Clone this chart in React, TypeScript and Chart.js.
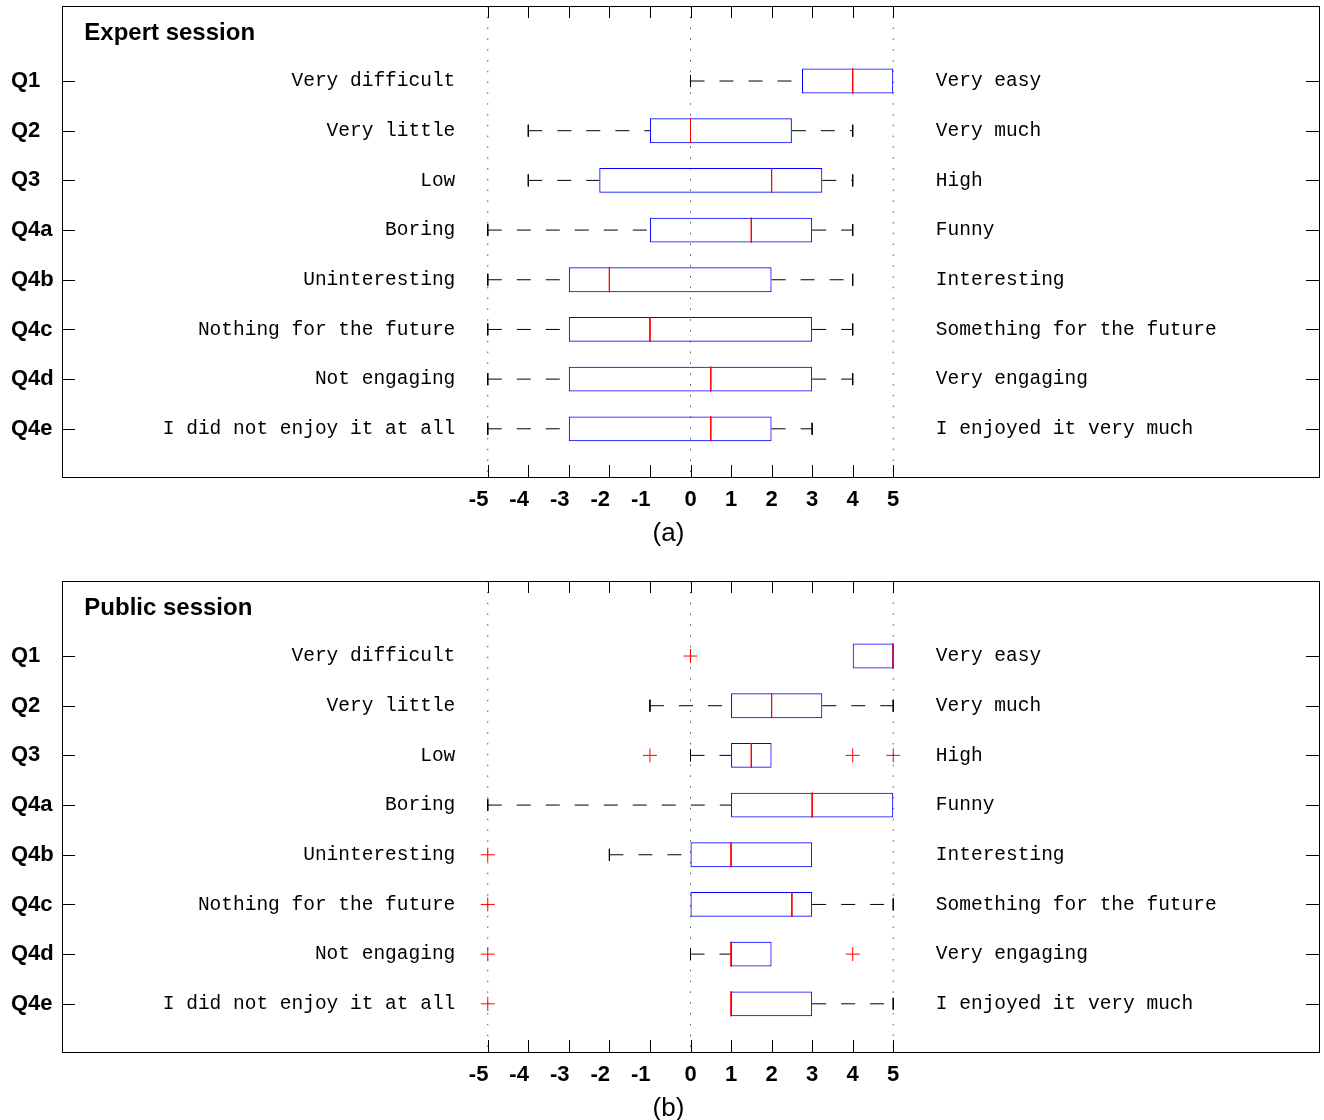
import React, { useEffect, useRef } from 'react';
import { Chart, registerables } from 'chart.js';

Chart.register(...registerables);

// ---------- data ----------
const categories = ['Q1', 'Q2', 'Q3', 'Q4a', 'Q4b', 'Q4c', 'Q4d', 'Q4e'];
const leftAnchors = [
  'Very difficult',
  'Very little',
  'Low',
  'Boring',
  'Uninteresting',
  'Nothing for the future',
  'Not engaging',
  'I did not enjoy it at all',
];
const rightAnchors = [
  'Very easy',
  'Very much',
  'High',
  'Funny',
  'Interesting',
  'Something for the future',
  'Very engaging',
  'I enjoyed it very much',
];
const xTickValues = [-5, -4, -3, -2, -1, 0, 1, 2, 3, 4, 5];
const referenceLines = [-5, 0, 5];

// Expert session (a)
const expertMin = [0, -4, -4, -5, -5, -5, -5, -5];
const expertQ1 = [2.75, -1, -2.25, -1, -3, -3, -3, -3];
const expertMedian = [4, 0, 2, 1.5, -2, -1, 0.5, 0.5];
const expertQ3 = [5, 2.5, 3.25, 3, 2, 3, 3, 2];
const expertMax = [5, 4, 4, 4, 4, 4, 4, 3];
const expertOutlierCategory: number[] = [];
const expertOutlierValue: number[] = [];

// Public session (b)
const publicMin = [4, -1, 0, -5, -2, 0, 0, 1];
const publicQ1 = [4, 1, 1, 1, 0, 0, 1, 1];
const publicMedian = [5, 2, 1.5, 3, 1, 2.5, 1, 1];
const publicQ3 = [5, 3.25, 2, 5, 3, 3, 2, 3];
const publicMax = [5, 5, 2, 5, 3, 5, 2, 5];
const publicOutlierCategory = [0, 2, 2, 2, 4, 5, 6, 6, 7];
const publicOutlierValue = [0, -1, 4, 5, -5, -5, -5, 4, -5];

// ---------- helpers ----------
const GAP = { x: NaN, y: NaN };
const Y_MIN = -0.51;
const Y_MAX = 8.97;

const MONO = '19.5px "Liberation Mono", "Courier New", monospace';
const SANS = '"Liberation Sans", Arial, Helvetica, sans-serif';

const decorPlugin = {
  id: 'decor',
  afterDatasetsDraw(chart: any) {
    const { ctx, chartArea: a, scales } = chart;
    const x = scales.x;
    const y = scales.y;
    const o = chart.options.plugins.decor;
    ctx.save();
    // frame
    ctx.strokeStyle = '#000';
    ctx.lineWidth = 1;
    ctx.setLineDash([]);
    ctx.strokeRect(Math.round(a.left) + 0.5, Math.round(a.top) + 0.5, Math.round(a.right - a.left), Math.round(a.bottom - a.top));
    // inward ticks
    ctx.beginPath();
    xTickValues.forEach((v) => {
      const px = Math.round(x.getPixelForValue(v)) + 0.5;
      ctx.moveTo(px, a.top);
      ctx.lineTo(px, a.top + 12);
      ctx.moveTo(px, a.bottom);
      ctx.lineTo(px, a.bottom - 12);
    });
    categories.forEach((_, i) => {
      const py = Math.round(y.getPixelForValue(i + 1)) + 0.5;
      ctx.moveTo(a.left, py);
      ctx.lineTo(a.left + 13, py);
      ctx.moveTo(a.right, py);
      ctx.lineTo(a.right - 13, py);
    });
    ctx.stroke();

    // anchor texts
    ctx.fillStyle = '#000';
    ctx.font = MONO;
    ctx.textBaseline = 'middle';
    categories.forEach((_, i) => {
      const py = y.getPixelForValue(i + 1);
      ctx.textAlign = 'right';
      ctx.fillText(leftAnchors[i], x.getPixelForValue(-5.8), py);
      ctx.textAlign = 'left';
      ctx.fillText(rightAnchors[i], x.getPixelForValue(6.05), py);
    });

    // panel title
    ctx.font = 'bold 24px ' + SANS;
    ctx.textAlign = 'left';
    ctx.fillText(o.title, x.getPixelForValue(-14.95), y.getPixelForValue(0.05));

    // caption
    ctx.font = '26px ' + SANS;
    ctx.textAlign = 'center';
    ctx.fillText(o.caption, (a.left + a.right) / 2 - 22, a.bottom + 57);
    ctx.restore();
  },
};

type SessionProps = {
  title: string;
  caption: string;
  mins: number[];
  q1s: number[];
  medians: number[];
  q3s: number[];
  maxs: number[];
  outlierCats: number[];
  outlierVals: number[];
  height: number;
};

function SessionChart(p: SessionProps) {
  const ref = useRef<HTMLCanvasElement>(null);
  useEffect(() => {
    const canvas = ref.current;
    if (!canvas) return;

    const boxes = categories.map((_, i) => ({ x: [p.q1s[i], p.q3s[i]], y: i + 1 }));
    const medianPts: any[] = [];
    const whiskerPts: any[] = [];
    const capPts: any[] = [];
    const capHalf = 0.12;
    categories.forEach((_, i) => {
      const yy = i + 1;
      medianPts.push({ x: p.medians[i], y: yy - 0.25 }, { x: p.medians[i], y: yy + 0.25 }, GAP);
      whiskerPts.push({ x: p.mins[i], y: yy }, { x: p.q1s[i], y: yy }, GAP);
      whiskerPts.push({ x: p.q3s[i], y: yy }, { x: p.maxs[i], y: yy }, GAP);
      if (p.mins[i] < p.q1s[i]) capPts.push({ x: p.mins[i], y: yy - capHalf }, { x: p.mins[i], y: yy + capHalf }, GAP);
      if (p.maxs[i] > p.q3s[i]) capPts.push({ x: p.maxs[i], y: yy - capHalf }, { x: p.maxs[i], y: yy + capHalf }, GAP);
    });
    const refPts: any[] = [];
    referenceLines.forEach((v) => refPts.push({ x: v, y: Y_MIN }, { x: v, y: Y_MAX }, GAP));
    const outliers = p.outlierCats.map((c, k) => ({ x: p.outlierVals[k], y: c + 1 }));

    const lineBase = {
      type: 'line',
      pointRadius: 0,
      borderWidth: 1,
      tension: 0,
      spanGaps: false,
      fill: false,
    };

    const chart = new Chart(canvas, {
      type: 'scatter',
      data: {
        datasets: [
          {
            type: 'scatter',
            data: outliers,
            pointStyle: 'cross',
            pointRadius: 7,
            borderColor: '#ff0000',
            backgroundColor: '#ff0000',
            borderWidth: 1,
            showLine: false,
            order: 0,
          } as any,
          { ...lineBase, data: medianPts, borderColor: '#ff0000', order: 1 } as any,
          {
            type: 'bar',
            indexAxis: 'y',
            data: boxes,
            backgroundColor: 'rgba(0,0,0,0)',
            borderColor: '#0000ff',
            borderWidth: 1,
            borderSkipped: false,
            categoryPercentage: 1,
            barPercentage: 0.5,
            order: 2,
          } as any,
          { ...lineBase, data: capPts, borderColor: '#000000', order: 3 } as any,
          { ...lineBase, data: whiskerPts, borderColor: '#000000', borderDash: [14, 15], order: 4 } as any,
          { ...lineBase, data: refPts, borderColor: '#555555', borderDash: [1.5, 9.3], order: 5 } as any,
        ],
      },
      options: {
        responsive: false,
        animation: false,
        events: [],
        layout: { autoPadding: false, padding: { left: 11, right: 5, top: 6, bottom: 0 } },
        plugins: {
          legend: { display: false },
          tooltip: { enabled: false },
          decor: { title: p.title, caption: p.caption },
        } as any,
        scales: {
          x: {
            type: 'linear',
            min: -15.5,
            max: 15.5,
            offset: false,
            grid: { display: false, drawTicks: false },
            border: { display: false },
            afterBuildTicks: (scale: any) => {
              scale.ticks = xTickValues.map((v) => ({ value: v }));
            },
            afterFit: (scale: any) => {
              scale.height = p.height - 477;
              scale.paddingLeft = 0;
              scale.paddingRight = 0;
            },
            ticks: {
              autoSkip: false,
              maxRotation: 0,
              padding: 10,
              color: '#000',
              font: { family: SANS, size: 22, weight: 'bold' },
              // negative labels sit slightly left of their tick, as in the original figure
              callback: (v: any) => (Number(v) < 0 ? String(v) + '   ' : String(v)),
            },
          },
          y: {
            type: 'linear',
            min: Y_MIN,
            max: Y_MAX,
            reverse: true,
            offset: false,
            grid: { display: false, drawTicks: false },
            border: { display: false },
            afterBuildTicks: (scale: any) => {
              scale.ticks = categories.map((_, i) => ({ value: i + 1 }));
            },
            afterFit: (scale: any) => {
              scale.width = 51;
              scale.paddingTop = 0;
              scale.paddingBottom = 0;
            },
            ticks: {
              autoSkip: false,
              crossAlign: 'far',
              padding: 0,
              color: '#000',
              font: { family: SANS, size: 22, weight: 'bold' },
              callback: (v: any) => categories[Number(v) - 1] ?? '',
            },
          },
        },
      } as any,
      plugins: [decorPlugin],
    });
    return () => chart.destroy();
  }, []);
  return (
    <canvas
      ref={ref}
      width={1324}
      height={p.height}
      style={{ display: 'block', width: 1324, height: p.height }}
    />
  );
}

export default function App() {
  return (
    <div style={{ position: 'absolute', left: 0, top: 0, width: 1324, height: 1120, background: '#fff', overflow: 'hidden' }}>
      <SessionChart
        title="Expert session"
        caption="(a)"
        mins={expertMin}
        q1s={expertQ1}
        medians={expertMedian}
        q3s={expertQ3}
        maxs={expertMax}
        outlierCats={expertOutlierCategory}
        outlierVals={expertOutlierValue}
        height={575}
      />
      <SessionChart
        title="Public session"
        caption="(b)"
        mins={publicMin}
        q1s={publicQ1}
        medians={publicMedian}
        q3s={publicQ3}
        maxs={publicMax}
        outlierCats={publicOutlierCategory}
        outlierVals={publicOutlierValue}
        height={545}
      />
    </div>
  );
}
